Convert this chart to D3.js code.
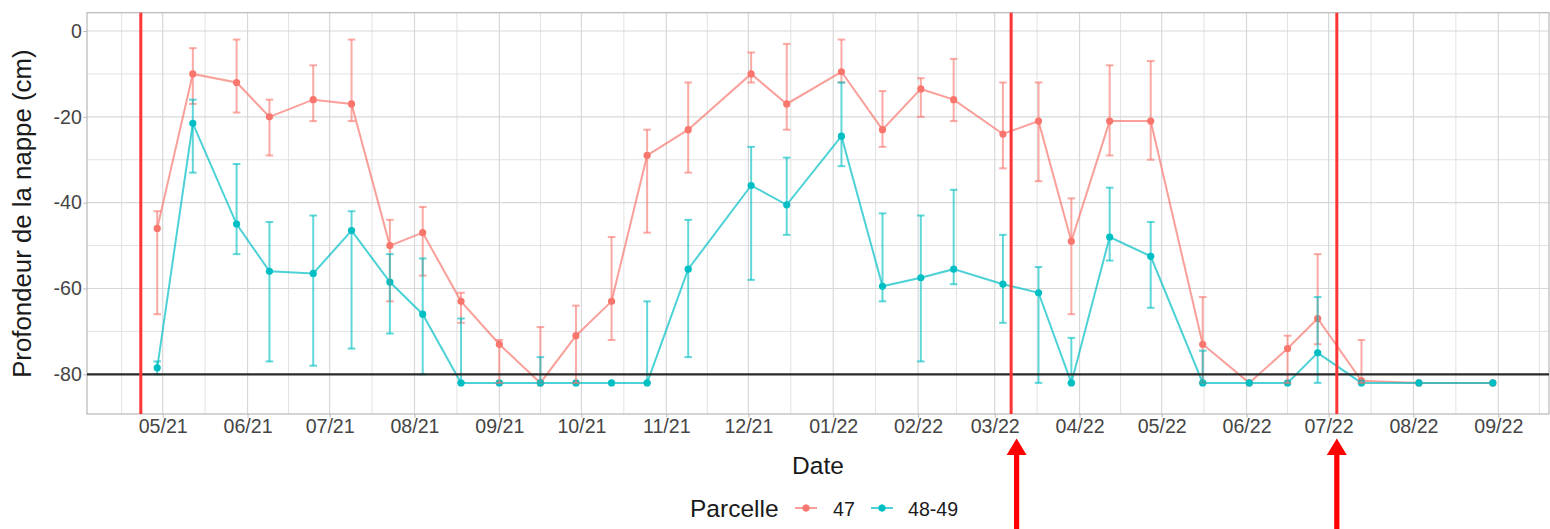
<!DOCTYPE html>
<html>
<head>
<meta charset="utf-8">
<script src="https://cdn.jsdelivr.net/npm/d3@7"></script>
<style>
  body { margin: 0; background: #ffffff; }
  svg { display: block; }
  text { font-family: "Liberation Sans", Arial, Helvetica, sans-serif; }
</style>
</head>
<body>
<svg id="chart" width="1550" height="529"></svg>
<script>
// Sampling dates (water-table readings)
const sampleDates = [
  "2021-04-29","2021-05-12","2021-05-28","2021-06-09","2021-06-25","2021-07-09",
  "2021-07-23","2021-08-04","2021-08-18","2021-09-01","2021-09-16","2021-09-29",
  "2021-10-12","2021-10-25","2021-11-09","2021-12-02","2021-12-15","2022-01-04",
  "2022-01-19","2022-02-02","2022-02-14","2022-03-04","2022-03-17","2022-03-29",
  "2022-04-12","2022-04-27","2022-05-16","2022-06-02","2022-06-16","2022-06-27",
  "2022-07-13","2022-08-03","2022-08-30"
];

// Parcelle 47: depth (cm) and error-bar bounds
const depth47 = [
  -46, -10, -12, -20, -16, -17, -50, -47, -63, -73, -82, -71,
  -63, -29, -23, -10, -17, -9.5, -23, -13.5, -16, -24, -21, -49,
  -21, -21, -73, -82, -74, -67, -81.5, -82, -82
];
const low47 = [
  -66, -17, -19, -29, -21, -21, -63, -57, -68, -82, -82, -82,
  -72, -47, -33, -12, -23, -12, -27, -20, -21, -32, -35, -66,
  -29, -30, -82, null, -82, -73, -82, null, null
];
const high47 = [
  -42, -4, -2, -16, -8, -2, -44, -41, -61, -72, -69, -64,
  -48, -23, -12, -5, -3, -2, -14, -11, -6.5, -12, -12, -39,
  -8, -7, -62, null, -71, -52, -72, null, null
];

// Parcelle 48-49: depth (cm) and error-bar bounds
const depth4849 = [
  -78.5, -21.5, -45, -56, -56.5, -46.5, -58.5, -66, -82, -82, -82, -82,
  -82, -82, -55.5, -36, -40.5, -24.5, -59.5, -57.5, -55.5, -59, -61, -82,
  -48, -52.5, -82, -82, -82, -75, -82, -82, -82
];
const low4849 = [
  -80, -33, -52, -77, -78, -74, -70.5, -80, -82, null, -82, null,
  null, -82, -76, -58, -47.5, -31.5, -63, -77, -59, -68, -82, -82,
  -53.5, -64.5, -82, null, null, -82, null, null, null
];
const high4849 = [
  -77, -16, -31, -44.5, -43, -42, -52, -53, -67, null, -76, null,
  null, -63, -44, -27, -29.5, -12, -42.5, -43, -37, -47.5, -55, -71.5,
  -36.5, -44.5, -74.5, null, null, -62, null, null, null
];

const seriesNames = ["47", "48-49"];
const seriesColors = ["#F8766D", "#00BFC4"];

// Axis ticks
const yTicks = [0, -20, -40, -60, -80];
const yMinorTicks = [-10, -30, -50, -70];
const monthTickFormat = "%m/%y";

// Reference lines
const floorDepth = -80;
const eventDates = ["2021-04-23", "2022-03-07", "2022-07-04"];
const arrowDates = ["2022-03-09", "2022-07-04"];

// Text
const yTitle = "Profondeur de la nappe (cm)";
const xTitle = "Date";
const legendTitle = "Parcelle";

// ---------------------------------------------------------------
const parse = d3.utcParse("%Y-%m-%d");
const svg = d3.select("#chart");

const panel = { left: 87, right: 1549, top: 12.7, bottom: 414 };

const x = d3.scaleUtc()
  .domain([parse("2021-05-01"), parse("2022-09-01")])
  .range([162.7, 1498.3]);
const y = d3.scaleLinear()
  .domain([0, -80])
  .range([31, 374.3]);

const leftDate = x.invert(panel.left), rightDate = x.invert(panel.right);
const majorMonths = d3.utcMonth.range(d3.utcMonth.ceil(leftDate), rightDate);
const allMonths = d3.utcMonth.range(d3.utcMonth.floor(leftDate), d3.utcMonth.offset(rightDate, 1));
const minorDates = d3.pairs(allMonths)
  .map(([a, b]) => new Date((+a + +b) / 2))
  .filter(d => x(d) > panel.left && x(d) < panel.right);

// Grid
const grid = svg.append("g");
grid.selectAll(".ymin").data(yMinorTicks).join("line")
  .attr("x1", panel.left).attr("x2", panel.right)
  .attr("y1", d => y(d)).attr("y2", d => y(d))
  .attr("stroke", "#e2e2e2").attr("stroke-width", 1);
grid.selectAll(".xmin").data(minorDates).join("line")
  .attr("x1", d => x(d)).attr("x2", d => x(d))
  .attr("y1", panel.top).attr("y2", panel.bottom)
  .attr("stroke", "#e2e2e2").attr("stroke-width", 1);
grid.selectAll(".ymaj").data(yTicks).join("line")
  .attr("x1", panel.left).attr("x2", panel.right)
  .attr("y1", d => y(d)).attr("y2", d => y(d))
  .attr("stroke", "#d8d8d8").attr("stroke-width", 1.2);
grid.selectAll(".xmaj").data(majorMonths).join("line")
  .attr("x1", d => x(d)).attr("x2", d => x(d))
  .attr("y1", panel.top).attr("y2", panel.bottom)
  .attr("stroke", "#d8d8d8").attr("stroke-width", 1.2);

// Panel border
svg.append("rect")
  .attr("x", panel.left).attr("y", panel.top)
  .attr("width", panel.right - panel.left).attr("height", panel.bottom - panel.top)
  .attr("fill", "none").attr("stroke", "#b8b8b8").attr("stroke-width", 1.2);

// Axes
const xAxis = svg.append("g")
  .attr("transform", `translate(0,${panel.bottom})`)
  .call(d3.axisBottom(x).tickValues(majorMonths)
    .tickFormat(d3.utcFormat(monthTickFormat)).tickSize(3.7).tickPadding(1));
const yAxis = svg.append("g")
  .attr("transform", `translate(${panel.left},0)`)
  .call(d3.axisLeft(y).tickValues(yTicks).tickFormat(d3.format("d"))
    .tickSize(3.7).tickPadding(1.5));
[xAxis, yAxis].forEach(a => {
  a.select(".domain").remove();
  a.selectAll(".tick line").attr("stroke", "#b8b8b8");
  a.selectAll(".tick text").attr("fill", "#444444")
    .style("font-size", "19.6px").style("font-family", "'Liberation Sans', Arial, sans-serif");
});
yAxis.selectAll(".tick text").text(d => d === 0 ? "0" : "-" + Math.abs(d));

// Series data
const series = [
  { name: seriesNames[0], color: seriesColors[0], v: depth47, lo: low47, hi: high47 },
  { name: seriesNames[1], color: seriesColors[1], v: depth4849, lo: low4849, hi: high4849 }
].map(s => ({
  ...s,
  pts: sampleDates.map((d, i) => ({ date: parse(d), v: s.v[i], lo: s.lo[i], hi: s.hi[i] }))
}));

const line = d3.line().x(d => x(d.date)).y(d => y(d.v));
const data = svg.append("g");

// Lines
data.selectAll(".ln").data(series).join("path")
  .attr("d", s => line(s.pts))
  .attr("fill", "none")
  .attr("stroke", s => s.color)
  .attr("stroke-width", 2)
  .attr("stroke-opacity", 0.7);

// Points
series.forEach(s => {
  data.append("g").selectAll("circle").data(s.pts).join("circle")
    .attr("cx", d => x(d.date)).attr("cy", d => y(d.v)).attr("r", 3.6)
    .attr("fill", s.color);
});

// Error bars
const capHalf = 3.8;
series.forEach(s => {
  const g = data.append("g")
    .attr("stroke", s.color).attr("stroke-width", 2).attr("stroke-opacity", 0.62);
  const bars = s.pts.filter(d => d.lo !== null && d.hi !== null);
  g.selectAll(".stem").data(bars).join("line")
    .attr("x1", d => x(d.date)).attr("x2", d => x(d.date))
    .attr("y1", d => y(d.hi)).attr("y2", d => y(d.lo));
  g.selectAll(".capT").data(bars).join("line")
    .attr("x1", d => x(d.date) - capHalf).attr("x2", d => x(d.date) + capHalf)
    .attr("y1", d => y(d.hi)).attr("y2", d => y(d.hi));
  g.selectAll(".capB").data(bars).join("line")
    .attr("x1", d => x(d.date) - capHalf).attr("x2", d => x(d.date) + capHalf)
    .attr("y1", d => y(d.lo)).attr("y2", d => y(d.lo));
});

// Reference lines
svg.append("line")
  .attr("x1", panel.left).attr("x2", panel.right)
  .attr("y1", y(floorDepth)).attr("y2", y(floorDepth))
  .attr("stroke", "#2a2a2a").attr("stroke-width", 2.2);
svg.selectAll(".event").data(eventDates).join("line")
  .attr("x1", d => x(parse(d))).attr("x2", d => x(parse(d)))
  .attr("y1", panel.top).attr("y2", panel.bottom)
  .attr("stroke", "#ff3535").attr("stroke-width", 3);

// Axis titles
svg.append("text")
  .attr("transform", `translate(31,${(y(0) + y(-80)) / 2 + 11}) rotate(-90)`)
  .attr("text-anchor", "middle")
  .attr("fill", "#1a1a1a")
  .style("font-size", "25.8px")
  .text(yTitle);
svg.append("text")
  .attr("x", 818).attr("y", 474)
  .attr("text-anchor", "middle")
  .attr("fill", "#1a1a1a")
  .style("font-size", "24.5px")
  .text(xTitle);

// Legend
const legend = svg.append("g");
legend.append("text")
  .attr("x", 690).attr("y", 516.5)
  .attr("fill", "#1a1a1a")
  .style("font-size", "24.5px")
  .text(legendTitle);
const keyX = [806, 882], labelX = [833, 908], keyY = 508;
series.forEach((s, i) => {
  legend.append("line")
    .attr("x1", keyX[i] - 11).attr("x2", keyX[i] + 11)
    .attr("y1", keyY).attr("y2", keyY)
    .attr("stroke", s.color).attr("stroke-width", 2).attr("stroke-opacity", 0.7);
  legend.append("line")
    .attr("x1", keyX[i]).attr("x2", keyX[i])
    .attr("y1", keyY - 4).attr("y2", keyY + 4)
    .attr("stroke", s.color).attr("stroke-width", 1.5).attr("stroke-opacity", 0.5);
  legend.append("circle")
    .attr("cx", keyX[i]).attr("cy", keyY).attr("r", 3.6).attr("fill", s.color);
  legend.append("text")
    .attr("x", labelX[i]).attr("y", 515.5)
    .attr("fill", "#1a1a1a")
    .style("font-size", "19.6px")
    .text(s.name);
});

// Red arrows pointing at the event dates
const arrowTip = 438.5, headBase = 455, headHalf = 10, shaftHalf = 2.6, arrowEnd = 529;
svg.selectAll(".arrow").data(arrowDates).join("path")
  .attr("d", d => {
    const ax = x(parse(d));
    return `M${ax},${arrowTip} L${ax + headHalf},${headBase} L${ax + shaftHalf},${headBase}
            L${ax + shaftHalf},${arrowEnd} L${ax - shaftHalf},${arrowEnd}
            L${ax - shaftHalf},${headBase} L${ax - headHalf},${headBase} Z`;
  })
  .attr("fill", "#ff0000");
</script>
</body>
</html>
